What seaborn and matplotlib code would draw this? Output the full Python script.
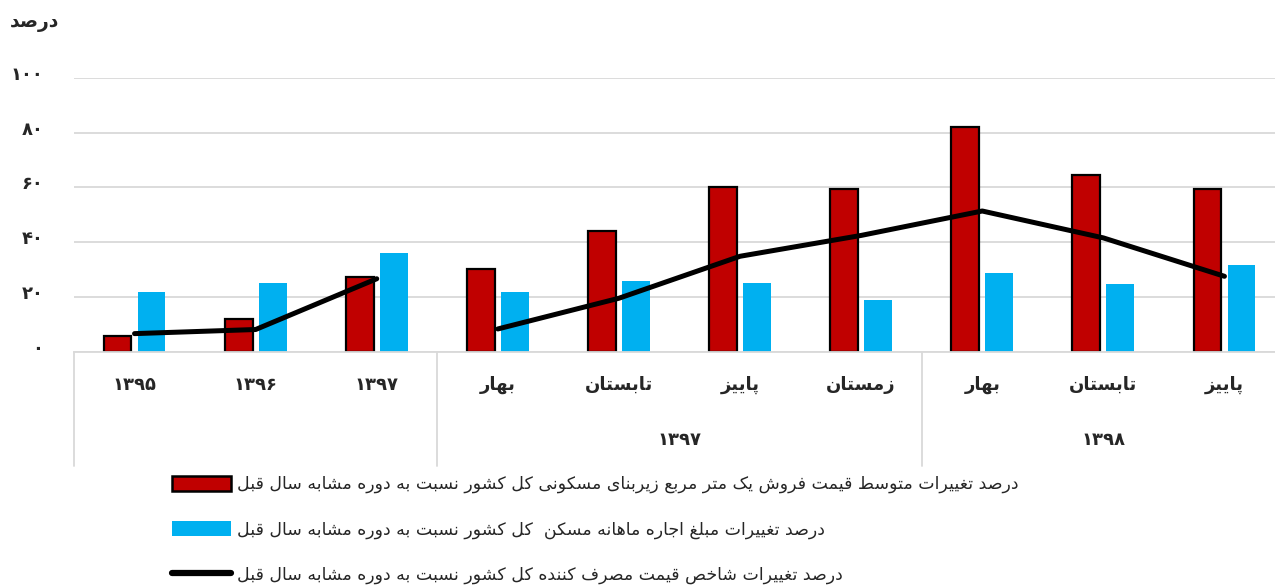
import numpy as np
import pandas as pd
import matplotlib
matplotlib.use('Agg')
import matplotlib.pyplot as plt
import matplotlib.transforms as mtransforms
from matplotlib.patches import Patch
from matplotlib.lines import Line2D
import seaborn as sns

# ---------------- data ----------------
periods = ['1395', '1396', '1397', '1397-1', '1397-2', '1397-3', '1397-4', '1398-1', '1398-2', '1398-3']
tick_labels = ['۱۳۹۵', '۱۳۹۶', '۱۳۹۷', 'بهار', 'تابستان', 'پاییز', 'زمستان', 'بهار', 'تابستان', 'پاییز']
group_labels = ['', '۱۳۹۷', '۱۳۹۸']
group_sizes = [3, 4, 3]

sale_price = [5.7, 12.2, 27.2, 30.1, 44.1, 60.1, 59.5, 81.9, 64.4, 59.3]
rent = [21.9, 25.1, 36.1, 21.7, 25.8, 25.0, 18.9, 28.8, 24.7, 31.6]
cpi = [6.7, 8.2, 26.7, 8.4, 19.6, 34.9, 42.5, 51.4, 41.6, 27.6]
cpi_segment = [0, 0, 0, 1, 1, 1, 1, 1, 1, 1]

yticks = [0, 20, 40, 60, 80, 100]

series_names = [
    'درصد تغییرات متوسط قیمت فروش یک متر مربع زیربنای مسکونی کل کشور نسبت به دوره مشابه سال قبل',
    'درصد تغییرات مبلغ اجاره ماهانه مسکن  کل کشور نسبت به دوره مشابه سال قبل',
]
line_name = 'درصد تغییرات شاخص قیمت مصرف کننده کل کشور نسبت به دوره مشابه سال قبل'
y_title = 'درصد'


# ------- small persian shaper (matplotlib has no arabic shaping) -------
def _forms(base, n):
    return tuple(chr(base + k) for k in range(n)) + (None,) * (4 - n)

FORMS = {
    'ا': _forms(0xFE8D, 2), 'ب': _forms(0xFE8F, 4), 'ت': _forms(0xFE95, 4),
    'ث': _forms(0xFE99, 4), 'ج': _forms(0xFE9D, 4), 'ح': _forms(0xFEA1, 4),
    'خ': _forms(0xFEA5, 4), 'د': _forms(0xFEA9, 2), 'ذ': _forms(0xFEAB, 2),
    'ر': _forms(0xFEAD, 2), 'ز': _forms(0xFEAF, 2), 'س': _forms(0xFEB1, 4),
    'ش': _forms(0xFEB5, 4), 'ص': _forms(0xFEB9, 4), 'ض': _forms(0xFEBD, 4),
    'ط': _forms(0xFEC1, 4), 'ظ': _forms(0xFEC5, 4), 'ع': _forms(0xFEC9, 4),
    'غ': _forms(0xFECD, 4), 'ف': _forms(0xFED1, 4), 'ق': _forms(0xFED5, 4),
    'ل': _forms(0xFEDD, 4), 'م': _forms(0xFEE1, 4), 'ن': _forms(0xFEE5, 4),
    'ه': _forms(0xFEE9, 4), 'و': _forms(0xFEED, 2),
    'پ': _forms(0xFB56, 4), 'چ': _forms(0xFB7A, 4), 'ژ': _forms(0xFB8A, 2),
    'ک': _forms(0xFB8E, 4), 'گ': _forms(0xFB92, 4), 'ی': _forms(0xFBFC, 4),
}


def fa(text):
    out = []
    for i, c in enumerate(text):
        if c not in FORMS:
            out.append(c)
            continue
        f = FORMS[c]
        prev = text[i - 1] if i > 0 else None
        nxt = text[i + 1] if i + 1 < len(text) else None
        jp = prev in FORMS and FORMS[prev][2] is not None
        jn = nxt in FORMS and f[2] is not None
        if jp and jn:
            out.append(f[3])
        elif jp:
            out.append(f[1])
        elif jn:
            out.append(f[2])
        else:
            out.append(f[0])
    return ''.join(reversed(out))


def fa_num(n):
    return str(n).translate(str.maketrans('0123456789', '۰۱۲۳۴۵۶۷۸۹'))


# ---------------- plot ----------------
sns.set_style('white')
plt.rcParams['font.family'] = ['DejaVu Sans']

red = '#C00000'
blue = '#00B0F0'

bars = pd.DataFrame({
    'period': periods * 2,
    'series': ['sale'] * len(periods) + ['rent'] * len(periods),
    'value': sale_price + rent,
})
line = pd.DataFrame({'period': periods, 'value': cpi, 'segment': cpi_segment})

fig = plt.figure(figsize=(12.75, 5.85), dpi=100)
ax = fig.add_axes([74 / 1275, 1 - 352 / 585, 1211 / 1275, 274.3 / 585])

sns.barplot(data=bars, x='period', y='value', hue='series', palette=[red, blue],
            width=0.56, gap=0.18, saturation=1, legend=False, ax=ax)
for p in ax.containers[0]:
    p.set_edgecolor('black')
    p.set_linewidth(1.6)
for p in ax.containers[1]:
    p.set_linewidth(0)

sns.lineplot(data=line, x='period', y='value', units='segment', estimator=None,
             color='black', linewidth=3.6, ax=ax, sort=False)
for l in ax.lines:
    l.set_solid_capstyle('round')

ax.set_xlim(-0.5, len(periods) - 0.5)
ax.set_ylim(0, 100)
ax.set_yticks(yticks)
ax.set_yticklabels([fa_num(v) for v in yticks], fontweight='bold', fontsize=13)
ax.set_xticks(range(len(periods)))
ax.set_xticklabels([fa(t) if not t[0].isdigit() else t for t in tick_labels],
                   fontweight='bold', fontsize=13)
ax.tick_params(axis='y', length=0, pad=22)
ax.tick_params(axis='x', length=0, pad=17)
shift = mtransforms.ScaledTranslation(0, 5 / 100, fig.dpi_scale_trans)
for t in ax.get_yticklabels():
    t.set_transform(t.get_transform() + shift)
ax.set_xlabel('')
ax.set_ylabel('')
ax.yaxis.grid(True, color='#D9D9D9', linewidth=1.3)
ax.set_axisbelow(True)
for s in ['top', 'right', 'left']:
    ax.spines[s].set_visible(False)
ax.spines['bottom'].set_color('#D9D9D9')
ax.spines['bottom'].set_linewidth(1.3)

# grouped category axis (second row + separators)
trans = mtransforms.blended_transform_factory(ax.transData, ax.transAxes)
edges = np.concatenate([[0], np.cumsum(group_sizes)]) - 0.5
for e in edges:
    ax.plot([e, e], [0, -0.415], transform=trans, color='#D9D9D9', lw=1.3, clip_on=False)
for lab, a, b in zip(group_labels, edges[:-1], edges[1:]):
    if lab:
        ax.text((a + b) / 2, -0.32, lab, transform=trans, ha='center', va='center',
                fontweight='bold', fontsize=13)

fig.text(35 / 1275, 1 - 22 / 585, fa(y_title), ha='center', va='center',
         fontweight='bold', fontsize=13.5)

handles = [
    Patch(facecolor=red, edgecolor='black', linewidth=1.8),
    Patch(facecolor=blue, edgecolor='none'),
    Line2D([0], [0], color='black', linewidth=4.5, solid_capstyle='round'),
]
labels = [fa(series_names[0]), fa(series_names[1]), fa(line_name)]
fig.legend(handles, labels, loc='upper left', bbox_to_anchor=(172 / 1275, 1 - 475 / 585),
           frameon=False, fontsize=12.5, handlelength=3.4, handleheight=0.95,
           handletextpad=0.35, labelspacing=1.55, borderpad=0, borderaxespad=0)

fig.savefig('out.png', dpi=100)
